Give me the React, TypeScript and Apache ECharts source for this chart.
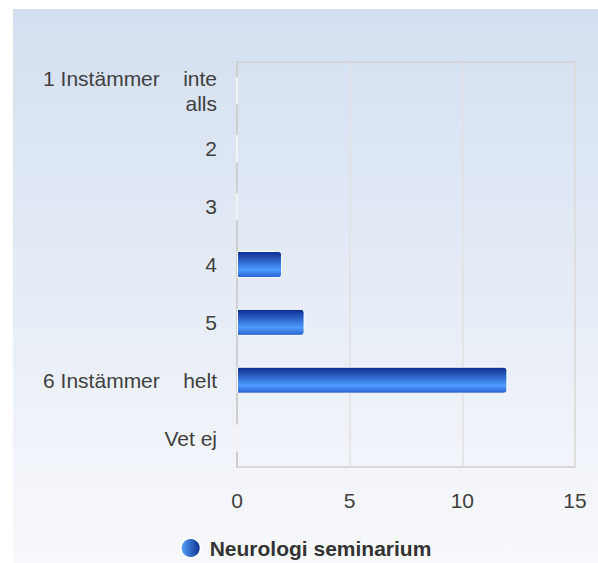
import React, { useEffect, useRef } from "react";
import * as echarts from "echarts";

const categories = [
  "1 Instämmer    inte\nalls",
  "2",
  "3",
  "4",
  "5",
  "6 Instämmer    helt",
  "Vet ej",
];
const seriesName = "Neurologi seminarium";
const values = [0, 0, 0, 2, 3, 12, 0];
const xMin = 0;
const xMax = 15;
const xInterval = 5;

export default function App() {
  const ref = useRef<HTMLDivElement>(null);
  useEffect(() => {
    if (!ref.current) return;
    const chart = echarts.init(ref.current, undefined, { renderer: "svg" });
    const barGradient = new echarts.graphic.LinearGradient(0, 0, 0, 1, [
      { offset: 0, color: "#0b2a8c" },
      { offset: 0.7, color: "#4d9bff" },
      { offset: 1, color: "#2a5fd0" },
    ]);
    const legendGradient = new echarts.graphic.LinearGradient(0, 0, 1, 0, [
      { offset: 0, color: "#5aa8ff" },
      { offset: 1, color: "#0b2a8c" },
    ]);
    chart.setOption({
      animation: false,
      backgroundColor: new echarts.graphic.LinearGradient(0, 0, 0, 1, [
        { offset: 0, color: "#d3dff0" },
        { offset: 1, color: "#f8f9fc" },
      ]),
      textStyle: { fontFamily: "Liberation Sans, Arial, sans-serif" },
      legend: {
        bottom: -1,
        left: "center",
        data: [{ name: seriesName, icon: "circle", itemStyle: { color: legendGradient } }],
        itemWidth: 20,
        itemHeight: 20,
        itemGap: 6,
        textStyle: { fontSize: 21, fontWeight: "bold", color: "#333333", padding: [0, 0, 0, 4] },
      },
      grid: {
        left: 224,
        top: 53,
        right: 23,
        bottom: 96,
        show: true,
        borderColor: "#cfcfcf",
        borderWidth: 1.5,
        backgroundColor: "transparent",
      },
      xAxis: {
        type: "value",
        min: xMin,
        max: xMax,
        interval: xInterval,
        axisLine: { show: false },
        axisTick: { show: false },
        splitLine: { show: true, lineStyle: { color: "#e0e0e0", width: 1.5 } },
        axisLabel: { fontSize: 21, color: "#404040", margin: 23 },
      },
      yAxis: {
        type: "category",
        inverse: true,
        data: categories,
        axisLine: { show: true, lineStyle: { color: "#cfcfcf", width: 2 } },
        axisTick: { show: false },
        splitLine: { show: false },
        axisLabel: {
          fontSize: 21,
          color: "#404040",
          margin: 20,
          lineHeight: 25,
          align: "right",
        },
      },
      series: [
        {
          name: seriesName,
          type: "bar",
          data: values,
          barWidth: 27,
          itemStyle: {
            color: barGradient,
            borderColor: "#ffffff",
            borderWidth: 1,
            borderRadius: [0, 3, 3, 0],
          },
        },
      ],
    });
    return () => chart.dispose();
  }, []);
  return (
    <div
      ref={ref}
      style={{ position: "absolute", left: 13, top: 9, width: 585, height: 554 }}
    />
  );
}
